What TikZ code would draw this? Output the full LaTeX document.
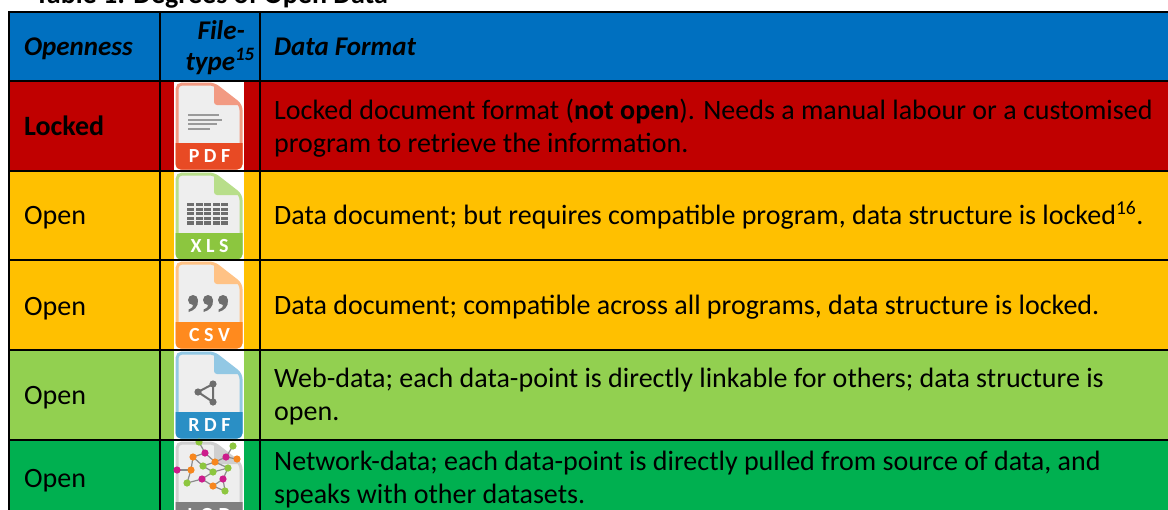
\documentclass[tikz,border=0pt]{standalone}
\usepackage{fontspec}
\setmainfont{Carlito}
\usepackage{tikz}

\definecolor{hdrblue}{HTML}{0070C0}
\definecolor{lockred}{HTML}{C00000}
\definecolor{openyellow}{HTML}{FFC000}
\definecolor{lightgreen}{HTML}{92D050}
\definecolor{darkgreen}{HTML}{00B050}
\definecolor{docgrey}{HTML}{EEEEEE}
\definecolor{glyphgrey}{HTML}{6E6E6E}
\definecolor{pdflight}{HTML}{F29A82}
\definecolor{pdfdark}{HTML}{E84A24}
\definecolor{xlslight}{HTML}{B8DE8A}
\definecolor{xlsdark}{HTML}{8CC63F}
\definecolor{csvlight}{HTML}{FFC285}
\definecolor{csvdark}{HTML}{FF8A1E}
\definecolor{rdflight}{HTML}{92C8E4}
\definecolor{rdfdark}{HTML}{2A8FC5}
\definecolor{lodlight}{HTML}{CFCFCF}
\definecolor{loddark}{HTML}{7F7F7F}
\definecolor{lodgreen}{HTML}{8DC63F}
\definecolor{lodpink}{HTML}{CC1C8C}
\definecolor{lodorange}{HTML}{F7871E}

\newcommand\lsp{\hspace{4.5pt}}
% file icon: top y, light colour, dark colour, name, label, glyph
\newcommand\fileicon[6]{%
\begin{scope}[shift={(174,#1)}]
\fill[white] (0,0) rectangle (70,89);
\draw[#2,line width=3pt,fill=docgrey,rounded corners=5pt] (3,3) -- (40,3) -- (67,24) -- (67,87) -- (3,87) -- cycle;
\fill[#2,rounded corners=3pt] (40,3) -- (40,24) -- (68,24) -- cycle;
\fill[#3] (1.5,62) -- (68.5,62) [rounded corners=5pt] -- (68.5,88.5) -- (1.5,88.5) [sharp corners] -- cycle;
\node[iconlabel] (#4) at (35.5,75.5) {#5};
#6
\end{scope}}

\begin{document}
\begin{tikzpicture}[x=1pt,y=-1pt,
  celltext/.style={anchor=base west,inner sep=0pt,font=\fontsize{28}{33}\selectfont},
  hdrtext/.style={celltext,font=\fontsize{27}{33}\selectfont\bfseries\itshape},
  iconlabel/.style={inner sep=0pt,text=white,font=\fontsize{20}{20}\selectfont\bfseries}]
\useasboundingbox (0,0) rectangle (1168,509);
\clip (0,0) rectangle (1168,509);

% rows
\fill[hdrblue] (9,12) rectangle (1170,81);
\fill[lockred] (9,81) rectangle (1170,170.5);
\fill[openyellow] (9,170.5) rectangle (1170,349.5);
\fill[lightgreen] (9,349.5) rectangle (1170,439.5);
\fill[darkgreen] (9,439.5) rectangle (1170,530);

% icons
\fileicon{81}{pdflight}{pdfdark}{pdflbl}{P\lsp D\lsp F}{%
  \foreach \l/\e in {34/45,38.5/48,43/43,47.5/36}
    \draw[glyphgrey!70,line width=2pt] (14,\l) -- (\e,\l);}
\fileicon{171}{xlslight}{xlsdark}{xlslbl}{X\lsp L\lsp S}{%
  \foreach \r in {0,...,4}
    \foreach \c in {0,...,4}
      \fill[glyphgrey] ({13+\c*8.6},{32+\r*4.6}) rectangle +(7,3.2);}
\fileicon{260}{csvlight}{csvdark}{csvlbl}{C\lsp S\lsp V}{%
  \foreach \x in {19,34,49} {
    \fill[glyphgrey] (\x,40) circle (5);
    \fill[glyphgrey] ({\x+5},40) .. controls ({\x+5.5},47) and ({\x+1},50.5) .. ({\x-4.5},52)
      -- ({\x-4.5},49.5) .. controls ({\x-1},48) and ({\x+0.5},46.5) .. ({\x},45) -- cycle;}}
\fileicon{350}{rdflight}{rdfdark}{rdflbl}{R\lsp D\lsp F}{%
  \draw[glyphgrey,line width=2pt] (24,42) -- (39,34) -- (39,52) -- cycle;
  \foreach \p in {(24,42),(39,34),(39,52)}
    \fill[glyphgrey] \p circle (3.6);}
\fileicon{440}{lodlight}{loddark}{lodlbl}{L\lsp O\lsp D}{%
  \foreach \xa/\ya/\xb/\yb in {25/2/31/13,31/13/19/17,31/13/41/22,59/6/52/17,52/17/63/19,52/17/41/22,
    41/22/29/26,19/17/29/26,19/17/17/30,3/30/17/30,29/26/39/32,41/22/54/28,39/32/54/28,
    17/30/13/43,39/32/28/39,28/39/13/43,54/28/49/39,49/39/39/46,28/39/39/46,39/46/51/51,49/39/51/51}
    \draw[glyphgrey!80,line width=1.2pt] (\xa,\ya) -- (\xb,\yb);
  \foreach \x/\y in {25/2,59/6,29/26,54/28,39/32,13/43,51/51}
    \fill[lodgreen] (\x,\y) circle (3.6);
  \foreach \x/\y in {31/13,52/17,3/30,28/39,49/39}
    \fill[lodpink] (\x,\y) circle (3.6);
  \foreach \x/\y in {19/17,63/19,41/22,17/30,39/46}
    \fill[lodorange] (\x,\y) circle (3.6);}

% grid
\draw[line width=2pt] (9,12) -- (1170,12);
\draw[line width=2pt] (9,81) -- (1170,81);
\draw[line width=2pt] (9,170.5) -- (1170,170.5);
\draw[line width=2pt] (9,259.5) -- (1170,259.5);
\draw[line width=2pt] (9,349.5) -- (1170,349.5);
\draw[line width=2pt] (9,439.5) -- (1170,439.5);
\draw[line width=2pt] (9,11) -- (9,530);
\draw[line width=2pt] (160,11) -- (160,530);
\draw[line width=2pt] (260,11) -- (260,530);

% title
\node[celltext,font=\fontsize{28}{33}\selectfont\bfseries] (title) at (35,3) {Table 1: Degrees of Open Data};

% header
\node[hdrtext] (hopen) at (24,55) {Openness};
\node[hdrtext,anchor=base east] (htypea) at (245,39) {File-};
\node[hdrtext,anchor=base east] (htypeb) at (255,70) {type\textsuperscript{15}};
\node[hdrtext] (hfmt) at (274,55) {Data Format};

% openness
\node[celltext,font=\fontsize{28}{33}\selectfont\bfseries] (open1) at (24,135) {Locked};
\node[celltext] (open2) at (24,224) {Open};
\node[celltext] (open3) at (24,315) {Open};
\node[celltext] (open4) at (24,404) {Open};
\node[celltext] (open5) at (24,487) {Open};

% data format
\node[celltext] (fmt1a) at (274,119) {Locked document format (\textbf{not open}). Needs a manual labour or a customised};
\node[celltext] (fmt1b) at (274,152) {program to retrieve the information.};
\node[celltext] (fmt2) at (274,224) {Data document; but requires compatible program, data structure is locked\textsuperscript{16}.};
\node[celltext] (fmt3) at (274,314) {Data document; compatible across all programs, data structure is locked.};
\node[celltext] (fmt4a) at (274,387) {Web-data; each data-point is directly linkable for others; data structure is};
\node[celltext] (fmt4b) at (274,420) {open.};
\node[celltext] (fmt5a) at (274,470) {Network-data; each data-point is directly pulled from source of data, and};
\node[celltext] (fmt5b) at (274,503) {speaks with other datasets.};
\end{tikzpicture}
\end{document}
